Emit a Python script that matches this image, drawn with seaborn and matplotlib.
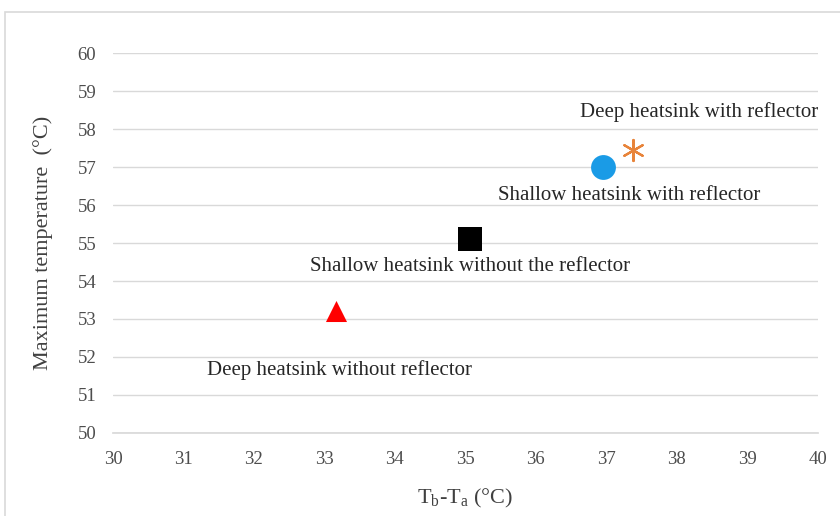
import matplotlib
matplotlib.use("Agg")
import matplotlib.pyplot as plt
import seaborn as sns
import pandas as pd

# values
configs = ["Deep heatsink without reflector", "Shallow heatsink without the reflector",
           "Shallow heatsink with reflector", "Deep heatsink with reflector"]
delta_t = [33.17, 35.07, 36.95, 37.38]
max_temp = [53.2, 55.1, 57.0, 57.45]

# where each annotation sits (data coordinates)
label_x = [33.22, 35.06, 37.33, 38.31]
label_y = [51.66, 54.37, 56.24, 58.45]

colors = ["#ff0000", "#000000", "#1a9be6", "#e8843a"]
markers = ["^", "s", "o", (6, 2, 0)]
sizes = [230, 280, 320, 230]

df = pd.DataFrame({"config": configs, "dt": delta_t, "tmax": max_temp})

sns.set_theme(style="white")
plt.rcParams["font.family"] = ["Liberation Serif", "DejaVu Serif"]

fig = plt.figure(figsize=(8.4, 5.16), dpi=100)
ax = fig.add_axes([0.1345, 0.161, 0.839, 0.736])

for i, row in df.iterrows():
    sns.scatterplot(data=df.iloc[[i]], x="dt", y="tmax", ax=ax, color=colors[i],
                    marker=markers[i], s=sizes[i],
                    linewidth=1.6 if i == 3 else 0, edgecolor=colors[i],
                    legend=False, zorder=3)
    ax.text(label_x[i], label_y[i], row["config"], ha="center", va="center",
            fontsize=15, color="#262626")

ax.set_xlim(30, 40)
ax.set_ylim(50, 60)
ax.set_xticks(range(30, 41))
ax.set_yticks(range(50, 61))
ax.tick_params(labelsize=13.5, colors="#4d4d4d", length=0)
ax.tick_params(axis="x", pad=13)
ax.tick_params(axis="y", pad=12)
ax.yaxis.grid(True, color="#d9d9d9", linewidth=1)
for side in ["top", "right", "left"]:
    ax.spines[side].set_visible(False)
ax.spines["bottom"].set_color("#d9d9d9")

ax.set_xlabel(r"T$_\mathregular{b}$-T$_\mathregular{a}$ (°C)", fontsize=16, color="#404040", labelpad=14)
ax.set_ylabel("Maximum temperature  (°C)", fontsize=16, color="#404040", labelpad=18)

# outer chart frame
fig.patches.append(plt.Rectangle((0.006, -0.01), 1.0, 0.987, transform=fig.transFigure,
                                 fill=False, edgecolor="#d9d9d9", linewidth=1.2))

fig.savefig("out.png", dpi=100)
